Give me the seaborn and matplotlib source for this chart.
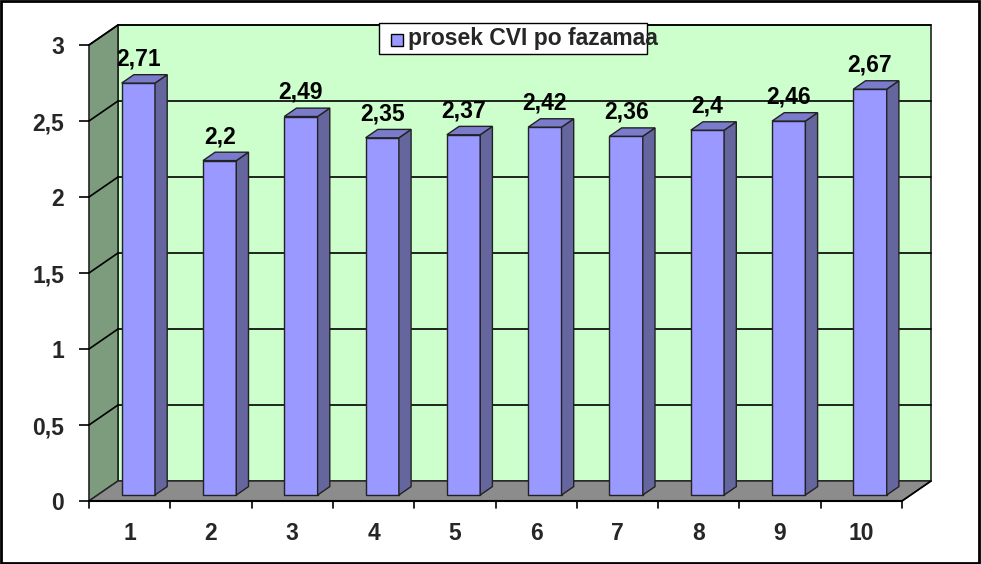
import matplotlib
matplotlib.use("Agg")
import matplotlib.pyplot as plt
import seaborn as sns
import pandas as pd
from matplotlib.patches import Polygon, Rectangle
from matplotlib.transforms import Affine2D

categories = ["1", "2", "3", "4", "5", "6", "7", "8", "9", "10"]
values = [2.71, 2.2, 2.49, 2.35, 2.37, 2.42, 2.36, 2.4, 2.46, 2.67]
series_name = "prosek CVI po fazama"
yticks = [0, 0.5, 1, 1.5, 2, 2.5, 3]

sns.set_theme(style="white")
plt.rcParams['font.family'] = ['Liberation Sans', 'DejaVu Sans']
plt.rcParams['font.weight'] = 'bold'

FS = 16.5
W, H = 981, 564
fig = plt.figure(figsize=(W / 100, H / 100), dpi=100)
# front plane of the 3D box: x 89..902 px, y 45..501 px (from top)
left, right, top, bottom = 89, 902, 45, 501
ax = fig.add_axes([left / W, 1 - bottom / H, (right - left) / W, (bottom - top) / H])
ax.set_xlim(-0.5, 9.5)
ax.set_ylim(0, 3)

# depth vector in data units (29 px right, 20 px up)
px_x = 10 / (right - left)
px_y = 3 / (bottom - top)
Dx, Dy = 29 * px_x, 20 * px_y

front_col = "#9999FF"
top_col = "#7B7BCC"
side_col = "#66669E"
wall_back = "#CCFFCC"
wall_left = "#7D9C7D"
floor_col = "#8C8C8C"
edge = "#222222"

# walls
ax.add_patch(Polygon([(-0.5 + Dx, Dy), (9.5 + Dx, Dy), (9.5 + Dx, 3 + Dy), (-0.5 + Dx, 3 + Dy)],
                     closed=True, facecolor=wall_back, edgecolor=edge, lw=1.2, clip_on=False, zorder=0))
ax.add_patch(Polygon([(-0.5, 0), (-0.5 + Dx, Dy), (-0.5 + Dx, 3 + Dy), (-0.5, 3)],
                     closed=True, facecolor=wall_left, edgecolor=edge, lw=1.2, clip_on=False, zorder=0.5))
ax.add_patch(Polygon([(-0.5, 0), (9.5, 0), (9.5 + Dx, Dy), (-0.5 + Dx, Dy)],
                     closed=True, facecolor=floor_col, edgecolor=edge, lw=1.0, clip_on=False, zorder=0.6))
# gridlines
for t in yticks[1:]:
    ax.plot([-0.5 + Dx, 9.5 + Dx], [t + Dy, t + Dy], color="black", lw=1.2, clip_on=False, zorder=0.7)
    ax.plot([-0.5, -0.5 + Dx], [t, t + Dy], color="black", lw=1.2, clip_on=False, zorder=0.7)

# bars via seaborn
df = pd.DataFrame({"phase": categories, "value": values})
sns.barplot(data=df, x="phase", y="value", color=front_col, width=0.41, saturation=1,
            edgecolor=edge, linewidth=1.0, ax=ax, zorder=3)

d0, d1 = 0.3, 0.72
shift = Affine2D().translate(d0 * Dx, d0 * Dy) + ax.transData
bw = d1 - d0
for p, v in zip(ax.patches[-len(values):], values):
    p.set_transform(shift)
    p.set_clip_on(False)
    x0 = p.get_x()
    x1 = x0 + p.get_width()
    h = p.get_height()
    side = Polygon([(x1, 0), (x1 + bw * Dx, bw * Dy), (x1 + bw * Dx, h + bw * Dy), (x1, h)],
                   closed=True, facecolor=side_col, edgecolor=edge, lw=1.0, transform=shift,
                   clip_on=False, zorder=3)
    topf = Polygon([(x0, h), (x1, h), (x1 + bw * Dx, h + bw * Dy), (x0 + bw * Dx, h + bw * Dy)],
                   closed=True, facecolor=top_col, edgecolor=edge, lw=1.0, transform=shift,
                   clip_on=False, zorder=3)
    ax.add_patch(side)
    ax.add_patch(topf)
    ax.annotate(f"{v:g}".replace(".", ","), xy=((x0 + x1) / 2, h + bw * Dy), xycoords=shift,
                xytext=(0, 3), textcoords="offset points", ha="center", va="bottom",
                fontsize=FS, fontweight="bold", color="black", annotation_clip=False, zorder=5)

# axes styling
for s in ["top", "right"]:
    ax.spines[s].set_visible(False)
ax.spines["left"].set_visible(False)
ax.spines["bottom"].set_color("black")
ax.spines["bottom"].set_linewidth(1.5)
ax.set_facecolor("none")
ax.set_xlabel("")
ax.set_ylabel("")
ax.set_yticks(yticks)
ax.set_yticklabels([f"{t:g}".replace(".", ",") for t in yticks])
ax.set_xticks(range(len(categories)))
ax.set_xticklabels(categories)
ax.tick_params(axis="y", left=True, length=7, width=1.2, color="black", pad=11, labelsize=FS)
ax.tick_params(axis="x", bottom=False, pad=9, labelsize=FS)
for lab in ax.get_xticklabels() + ax.get_yticklabels():
    lab.set_fontweight("bold")
# x boundary ticks
for b in range(len(categories) + 1):
    ax.plot([b - 0.5, b - 0.5], [0, -7 * px_y], color="black", lw=1.2, clip_on=False, zorder=2)
# floor right edge
ax.plot([9.5, 9.5 + Dx], [0, Dy], color="black", lw=1.2, clip_on=False, zorder=2)

# legend box (text overflows the box as in the original)
fig.patches.append(Rectangle((379 / W, 1 - 54 / H), (647 - 379) / W, 31 / H, transform=fig.transFigure,
                             facecolor="white", edgecolor="black", lw=1.0, zorder=6))
fig.patches.append(Rectangle((391 / W, 1 - 46 / H), 12 / W, 12 / H, transform=fig.transFigure,
                             facecolor=front_col, edgecolor="black", lw=1.0, zorder=7))
fig.text(408 / W, 1 - 39 / H, series_name + "a", fontsize=FS, fontweight="bold", va="center",
         ha="left", zorder=8)

# figure border
fig.patches.append(Rectangle((0.001, 0.002), 0.997, 0.996, transform=fig.transFigure,
                             facecolor="none", edgecolor="black", lw=2, zorder=10))

fig.savefig("out.png", dpi=100)
